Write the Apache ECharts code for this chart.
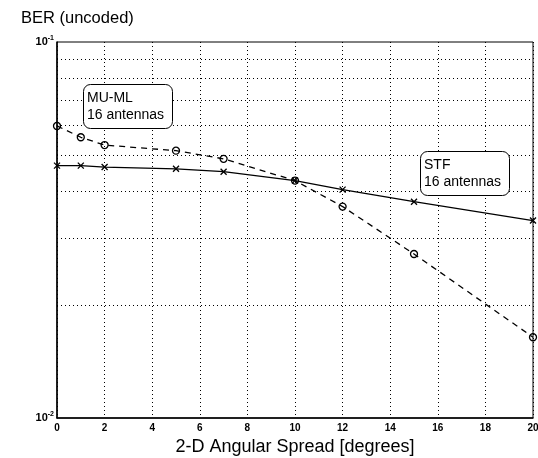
<!DOCTYPE html>
<html>
<head>
<meta charset="utf-8">
<script src="https://cdn.jsdelivr.net/npm/echarts@6/dist/echarts.min.js"></script>
<style>html,body{margin:0;padding:0;background:#fff;}#c{width:538px;height:458px;}</style>
</head>
<body>
<div id="c"></div>
<script>
const angles = [0, 1, 2, 5, 7, 10, 12, 15, 20];
const muml = [0.0598, 0.0558, 0.0532, 0.0514, 0.0489, 0.0428, 0.0365, 0.0273, 0.0164];
const stf = [0.0469, 0.0469, 0.0465, 0.0460, 0.0452, 0.0428, 0.0405, 0.0376, 0.0335];
const minorGrid = [0.02, 0.03, 0.04, 0.05, 0.06, 0.07, 0.08, 0.09];
const xTicks = [0, 2, 4, 6, 8, 10, 12, 14, 16, 18, 20];

const font = '"Liberation Sans", Arial, Helvetica, sans-serif';
const chart = echarts.init(document.getElementById('c'), null, {renderer: 'canvas'});
const pair = (xs, ys) => xs.map((x, i) => [x, ys[i]]);

chart.setOption({
  animation: false,
  backgroundColor: '#fff',
  title: [
    {text: 'BER (uncoded)', left: 16, top: 5,
     textStyle: {fontFamily: font, fontSize: 16.5, fontWeight: 'normal', color: '#000'}},
    {text: 'MU-ML\n16 antennas', left: 83, top: 84, z: 10,
     backgroundColor: '#fff',
     borderColor: '#000', borderWidth: 1, borderRadius: 7, padding: [6, 9, 5, 4],
     textStyle: {fontFamily: font, fontSize: 14, fontWeight: 'normal', color: '#000', lineHeight: 17}},
    {text: 'STF\n16 antennas', left: 420, top: 151, z: 10,
     backgroundColor: '#fff',
     borderColor: '#000', borderWidth: 1, borderRadius: 7, padding: [6, 9, 5, 4],
     textStyle: {fontFamily: font, fontSize: 14, fontWeight: 'normal', color: '#000', lineHeight: 17}}
  ],
  grid: {left: 57, right: 5, top: 42, bottom: 40, show: true, borderColor: '#000', borderWidth: 1,
         outerBoundsMode: 'none', containLabel: false},
  xAxis: {
    type: 'value', min: 0, max: 20, interval: 2,
    name: '2-D Angular Spread [degrees]', nameLocation: 'middle', nameGap: 11,
    nameTextStyle: {fontFamily: font, fontSize: 18, color: '#000'},
    axisLine: {lineStyle: {color: '#000', width: 1.5}},
    axisTick: {show: false},
    axisLabel: {fontFamily: font, fontSize: 10, fontWeight: 'bold', color: '#000', margin: 5,
      formatter: v => xTicks.includes(v) ? String(v) : ''},
    splitLine: {show: true, lineStyle: {color: '#000', type: [1, 3], width: 1}}
  },
  yAxis: {
    type: 'log', logBase: 10, min: 0.01, max: 0.1,
    axisLine: {lineStyle: {color: '#000', width: 1.5}},
    axisTick: {show: false},
    splitLine: {show: false},
    axisLabel: {
      margin: 3, color: '#000',
      formatter: v => {
        const e = Math.round(Math.log10(v));
        return '{b|10}{s|' + e + '}';
      },
      rich: {
        b: {fontFamily: font, fontSize: 11, fontWeight: 'bold', color: '#000'},
        s: {fontFamily: font, fontSize: 7, fontWeight: 'bold', color: '#000', verticalAlign: 'top', padding: [0, 0, 8, 0]}
      }
    }
  },
  series: [
    {
      type: 'line', name: 'grid', data: [], silent: true,
      markLine: {
        silent: true, symbol: 'none', label: {show: false},
        lineStyle: {color: '#000', type: [1, 3], width: 1},
        data: minorGrid.map(v => ({yAxis: v}))
      }
    },
    {
      type: 'line', name: 'STF', data: pair(angles, stf),
      symbol: 'path://M0,0L10,10M10,0L0,10', symbolSize: 6, showSymbol: true,
      lineStyle: {color: '#000', width: 1.3},
      itemStyle: {color: 'none', borderColor: '#000', borderWidth: 1.3}
    },
    {
      type: 'line', name: 'MU-ML', data: pair(angles, muml),
      symbol: 'circle', symbolSize: 7, showSymbol: true,
      lineStyle: {color: '#000', width: 1.3, type: [6, 5]},
      itemStyle: {color: 'none', borderColor: '#000', borderWidth: 1.3}
    }
  ]
});
</script>
</body>
</html>
